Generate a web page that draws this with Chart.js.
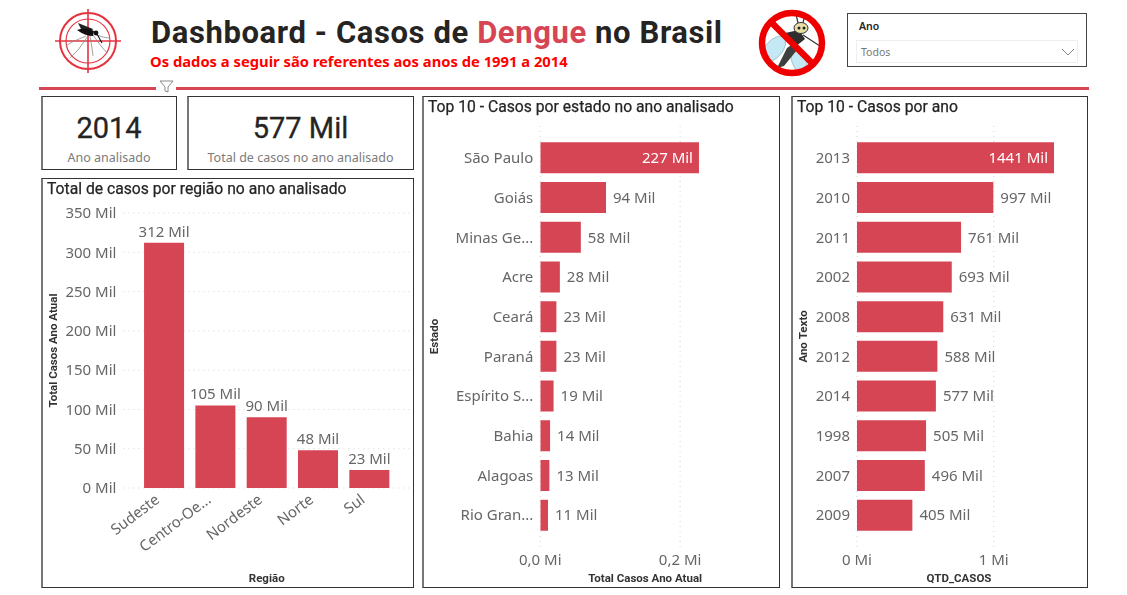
<!DOCTYPE html>
<html lang="pt-BR">
<head>
<meta charset="utf-8">
<title>Dashboard - Casos de Dengue no Brasil</title>
<script src="https://cdn.jsdelivr.net/npm/chart.js@4"></script>
<style>
  html, body { margin: 0; padding: 0; background: #fff; width: 1127px; height: 595px; overflow: hidden; }
  body { position: relative; font-family: "Noto Sans", sans-serif; color: #252423; }
  .abs { position: absolute; }
  .painel { position: absolute; box-sizing: border-box; border: 1px solid #333; border-left: 2px solid #777; background: #fff; }
  .din { font-family: Roboto, sans-serif; }
  .titulo-painel { position: absolute; font-family: Roboto, sans-serif; font-weight: 400; font-size: 15.7px; color: #252423; white-space: nowrap; z-index: 2; -webkit-text-stroke: .25px #252423; }
  .kpi { text-align: center; font-family: Roboto, sans-serif; font-size: 29px; font-weight: 400; color: #252423; -webkit-text-stroke: .3px #252423; }
  .kpi-sub { text-align: center; font-size: 12.5px; color: #7b7b7b; white-space: nowrap; }
  canvas { position: absolute; }
</style>
</head>
<body>

<!-- logo alvo -->
<svg class="abs" style="left:53px;top:6px" width="70" height="70" viewBox="0 0 70 70">
  <g fill="none" stroke="#e5343f">
    <circle cx="35" cy="35" r="28" stroke-width="2"/>
    <circle cx="35" cy="35" r="22" stroke-width="1.2"/>
    <path d="M35 3V67M2 35H68" stroke-width="1.6"/>
  </g>
  <g fill="none" stroke="#8a8a8a" stroke-width=".8">
    <path d="M33 30 L19 36 L13 40"/>
    <path d="M35 30 L25 44 L17 52"/>
    <path d="M37 30 L39 42 L40 50"/>
    <path d="M40 29 L48 40 L54 47"/>
    <path d="M41 28 L50 31 L56 32"/>
  </g>
  <path d="M25 17 L40 23 L38 27 L28 23Z" fill="#222"/>
  <path d="M24 24 Q32 21 41 25 L40 30 Q32 30 24 24Z" fill="#111"/>
  <circle cx="43" cy="27" r="2.4" fill="#111"/>
  <path d="M44 28 L49 37" stroke="#111" stroke-width="1.1"/>
</svg>

<div class="abs din" style="left:151px;top:14px;font-size:31px;font-weight:700;white-space:nowrap;letter-spacing:.6px;color:#252423">Dashboard - Casos de <span style="color:#d64554">Dengue</span> no Brasil</div>
<div class="abs" style="left:150px;top:51px;font-size:14.75px;font-weight:700;color:#f00;white-space:nowrap">Os dados a seguir são referentes aos anos de 1991 a 2014</div>

<!-- mosquito proibido -->
<svg class="abs" style="left:757px;top:6px" width="70" height="74" viewBox="0 0 70 74">
  <ellipse cx="17" cy="43" rx="8.5" ry="15" transform="rotate(40 17 43)" fill="#c4e8f4" stroke="#7fa9b5" stroke-width=".6"/>
  <ellipse cx="42" cy="55" rx="7" ry="13" transform="rotate(-22 42 55)" fill="#c4e8f4" stroke="#7fa9b5" stroke-width=".6"/>
  <path d="M20 62 L30 42 L40 35 L40 44 L27 60Z" fill="#3f3f3f"/>
  <path d="M28 27 L42 24 L48 33 L38 41Z" fill="#2e2e2e"/>
  <path d="M46 29 L66 42M41 17 L39 8M46 17 L48 8" stroke="#333" stroke-width="1.2" fill="none"/>
  <ellipse cx="44" cy="22" rx="7" ry="5.5" fill="#e9dfa5" stroke="#333"/>
  <circle cx="42" cy="22" r="1.5" fill="#222"/><circle cx="47" cy="22" r="1.5" fill="#222"/>
  <circle cx="35" cy="37" r="30" fill="none" stroke="#ee0000" stroke-width="6.5"/>
  <path d="M14 16 L56 58" stroke="#ee0000" stroke-width="6.5"/>
</svg>

<!-- segmentação Ano -->
<div class="abs" style="left:847px;top:13px;width:240px;height:54px;box-sizing:border-box;border:1px solid #444"></div>
<div class="abs" style="left:859px;top:19px;font-size:10.5px;font-weight:600;color:#252423">Ano</div>
<div class="abs" style="left:856px;top:40px;width:222px;height:23px;box-sizing:border-box;border:1px solid #eee;font-size:10.5px;color:#777;padding:4px 0 0 4px">Todos</div>
<svg class="abs" style="left:1061px;top:47px" width="14" height="10"><path d="M1 2 L7 8 L13 2" fill="none" stroke="#888"/></svg>

<!-- linha divisória -->
<div class="abs" style="left:39px;top:87px;width:1050px;height:2.5px;background:#d64554"></div>
<div class="abs" style="left:156px;top:84px;width:20px;height:8px;background:#fff"></div>
<svg class="abs" style="left:159px;top:80px" width="15" height="13"><path d="M1 1 H14 L9 7 V12 L6 11 V7Z" fill="#fff" stroke="#8a8a8a"/></svg>

<!-- cartões -->
<div class="painel" style="left:41px;top:96px;width:136px;height:74px"></div>
<div class="abs kpi" style="left:41px;top:111px;width:136px">2014</div>
<div class="abs kpi-sub" style="left:41px;top:149px;width:136px">Ano analisado</div>
<div class="painel" style="left:187px;top:96px;width:227px;height:74px"></div>
<div class="abs kpi" style="left:187px;top:111px;width:227px">577 Mil</div>
<div class="abs kpi-sub" style="left:187px;top:149px;width:227px">Total de casos no ano analisado</div>

<!-- painéis -->
<div class="painel" style="left:41px;top:178px;width:373px;height:410px"></div>
<div class="titulo-painel" style="left:47px;top:179px">Total de casos por região no ano analisado</div>
<canvas id="graficoRegiao" style="left:42px;top:178px"></canvas>

<div class="painel" style="left:422px;top:96px;width:358px;height:492px"></div>
<div class="titulo-painel" style="left:428px;top:97px">Top 10 - Casos por estado no ano analisado</div>
<canvas id="graficoEstado" style="left:423px;top:96px"></canvas>

<div class="painel" style="left:791px;top:96px;width:297px;height:492px"></div>
<div class="titulo-painel" style="left:797px;top:97px">Top 10 - Casos por ano</div>
<canvas id="graficoAno" style="left:792px;top:96px"></canvas>

<script>
const regioes = ["Sudeste", "Centro-Oe...", "Nordeste", "Norte", "Sul"];
const casosRegiao = [312, 105, 90, 48, 23];
const ticksRegiao = [0, 50, 100, 150, 200, 250, 300, 350];

const estados = ["São Paulo", "Goiás", "Minas Ge...", "Acre", "Ceará", "Paraná", "Espírito S...", "Bahia", "Alagoas", "Rio Gran..."];
const casosEstado = [227, 94, 58, 28, 23, 23, 19, 14, 13, 11];
const ticksEstado = [0, 200];

const anos = ["2013", "2010", "2011", "2002", "2008", "2012", "2014", "1998", "2007", "2009"];
const casosAno = [1441, 997, 761, 693, 631, 588, 577, 505, 496, 405];
const ticksAno = [0, 1000];

const vermelho = "#d64554";
const cinza = "#666666";
const fonte = '"Noto Sans", sans-serif';

Chart.defaults.animation = false;
Chart.defaults.font.family = fonte;

// grade pontilhada que passa um pouco do eixo, como no Power BI
const gradePontilhada = {
  id: "gradePontilhada",
  beforeDatasetsDraw(chart, args, opts) {
    const ctx = chart.ctx;
    const area = chart.chartArea;
    const escala = chart.scales[chart.options.indexAxis == "y" ? "x" : "y"];
    ctx.save();
    ctx.strokeStyle = "#d4d4d4";
    ctx.lineWidth = 1;
    ctx.setLineDash([1, 4]);
    escala.ticks.forEach((t, i) => {
      const p = escala.getPixelForTick(i);
      ctx.beginPath();
      if (chart.options.indexAxis == "y") {
        ctx.moveTo(p, area.top - 12);
        ctx.lineTo(p, area.bottom + 12);
      } else {
        ctx.moveTo(area.left - 15, p);
        ctx.lineTo(area.right + 15, p);
      }
      ctx.stroke();
    });
    ctx.restore();
  }
};

// rótulos de dados: "312 Mil"
const rotulos = {
  id: "rotulos",
  afterDatasetsDraw(chart) {
    const ctx = chart.ctx;
    const horizontal = chart.options.indexAxis == "y";
    const valores = chart.data.datasets[0].data;
    ctx.save();
    ctx.font = "15px " + fonte;
    chart.getDatasetMeta(0).data.forEach((barra, i) => {
      const texto = valores[i] + " Mil";
      if (!horizontal) {
        ctx.fillStyle = cinza;
        ctx.textAlign = "center";
        ctx.textBaseline = "bottom";
        ctx.fillText(texto, barra.x, barra.y - 3);
      } else {
        ctx.textBaseline = "middle";
        if (i == 0) {
          ctx.fillStyle = "#ffffff";
          ctx.textAlign = "right";
          ctx.fillText(texto, barra.x - 6, barra.y + 1);
        } else {
          ctx.fillStyle = cinza;
          ctx.textAlign = "left";
          ctx.fillText(texto, barra.x + 7, barra.y + 1);
        }
      }
    });
    ctx.restore();
  }
};

function tamanho(id, w, h) {
  const c = document.getElementById(id);
  c.width = w;
  c.height = h;
  c.style.width = w + "px";
  c.style.height = h + "px";
  return c.getContext("2d");
}

function tituloEixo(texto) {
  return { display: true, text: texto, color: "#333", font: { size: 11.5, weight: "bold", family: "Roboto, sans-serif" }, padding: { top: 5, bottom: 1 } };
}

new Chart(tamanho("graficoRegiao", 371, 409), {
  type: "bar",
  data: { labels: regioes, datasets: [{ data: casosRegiao, backgroundColor: vermelho, barPercentage: 0.78, categoryPercentage: 1 }] },
  options: {
    responsive: false,
    layout: { padding: { top: 35, right: 18, left: 0, bottom: 0 } },
    plugins: { legend: { display: false }, tooltip: { enabled: false } },
    scales: {
      y: {
        min: 0, max: 350,
        afterFit: s => { s.width = 96.4; },
        afterBuildTicks: s => { s.ticks = ticksRegiao.map(v => ({ value: v })); },
        grid: { display: false, drawTicks: false },
        border: { display: false },
        ticks: { color: cinza, font: { size: 15 }, padding: 22, labelOffset: 1, callback: v => v + " Mil" },
        title: tituloEixo("Total Casos Ano Atual")
      },
      x: {
        afterFit: s => { s.height = 99; },
        grid: { display: false, drawTicks: false },
        border: { display: false },
        ticks: { color: cinza, font: { size: 15 }, padding: 3, labelOffset: -6, minRotation: 37, maxRotation: 37, autoSkip: false },
        title: tituloEixo("Região")
      }
    }
  },
  plugins: [gradePontilhada, rotulos]
});

function barrasHorizontais(id, w, larguraEixo, direita, maximo, categorias, valores, ticks, formato, tituloX, tituloY) {
  new Chart(tamanho(id, w, 491), {
    type: "bar",
    data: { labels: categorias, datasets: [{ data: valores, backgroundColor: vermelho, barPercentage: 0.78, categoryPercentage: 1 }] },
    options: {
      indexAxis: "y",
      responsive: false,
      layout: { padding: { top: 42, right: direita, left: 0, bottom: 0 } },
      plugins: { legend: { display: false }, tooltip: { enabled: false } },
      scales: {
        y: {
          afterFit: s => { s.width = larguraEixo; },
          grid: { display: false, drawTicks: false },
          border: { display: false },
          ticks: { color: cinza, font: { size: 15 }, padding: 7, labelOffset: 1, autoSkip: false },
          title: tituloEixo(tituloY)
        },
        x: {
          min: 0, max: maximo,
          afterFit: s => { s.height = 52; },
          afterBuildTicks: s => { s.ticks = ticks.map(v => ({ value: v })); },
          grid: { display: false, drawTicks: false },
          border: { display: false },
          ticks: { color: cinza, font: { size: 15 }, padding: 17, maxRotation: 0, callback: formato },
          title: tituloEixo(tituloX)
        }
      }
    },
    plugins: [gradePontilhada, rotulos]
  });
}

barrasHorizontais("graficoEstado", 356, 117.3, 29, 300, estados, casosEstado, ticksEstado,
  v => (v / 1000).toFixed(1).replace(".", ",") + " Mi", "Total Casos Ano Atual", "Estado");
barrasHorizontais("graficoAno", 295, 65, 26, 1492, anos, casosAno, ticksAno,
  v => (v / 1000) + " Mi", "QTD_CASOS", "Ano Texto");
</script>
</body>
</html>
